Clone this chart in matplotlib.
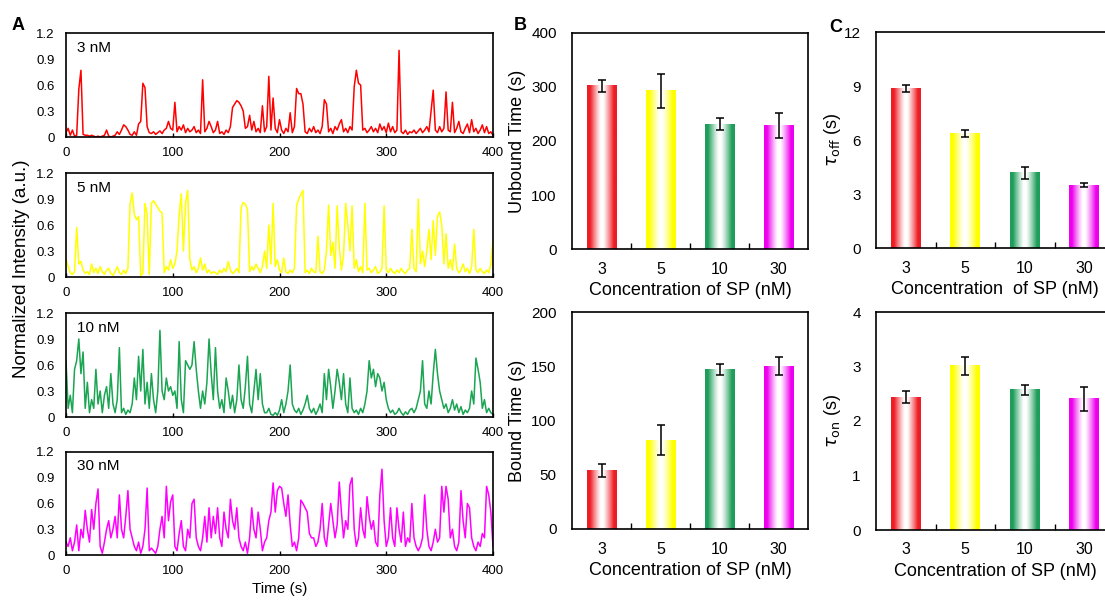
import numpy as np
import matplotlib
matplotlib.use("Agg")
import matplotlib.pyplot as plt
from matplotlib.colors import to_rgb

plt.rcParams['font.family'] = ['Liberation Sans', 'DejaVu Sans']
plt.rcParams['mathtext.fontset'] = 'dejavusans'

# ---------------- data ----------------
trace_labels = ["3 nM", "5 nM", "10 nM", "30 nM"]
trace_colors = ["#ff0000", "#ffff00", "#1aa552", "#ff00ff"]
dt = 2.0  # seconds between samples

trace_3nM = [
    0.05, 0.10, 0.02, 0.08, 0.01, 0.02, 0.55, 0.77, 0.03, 0.02,
    0.02, 0.01, 0.02, 0.01, 0.00, 0.01, 0.00, 0.01, 0.02, 0.08,
    0.01, 0.00, 0.01, 0.02, 0.06, 0.03, 0.08, 0.14, 0.12, 0.08,
    0.03, 0.02, 0.06, 0.02, 0.15, 0.18, 0.62, 0.57, 0.12, 0.05,
    0.04, 0.06, 0.03, 0.05, 0.07, 0.04, 0.08, 0.10, 0.18, 0.10,
    0.08, 0.40, 0.06, 0.12, 0.08, 0.14, 0.05, 0.10, 0.06, 0.08,
    0.12, 0.05, 0.08, 0.04, 0.66, 0.06, 0.10, 0.18, 0.12, 0.05,
    0.08, 0.18, 0.04, 0.06, 0.03, 0.08, 0.05, 0.12, 0.34, 0.38,
    0.42, 0.40, 0.36, 0.30, 0.10, 0.12, 0.25, 0.08, 0.18, 0.06,
    0.10, 0.05, 0.36, 0.06, 0.12, 0.70, 0.08, 0.45, 0.10, 0.05,
    0.20, 0.08, 0.04, 0.10, 0.06, 0.28, 0.05, 0.12, 0.56, 0.50,
    0.50, 0.38, 0.06, 0.04, 0.10, 0.06, 0.12, 0.05, 0.08, 0.04,
    0.12, 0.43, 0.38, 0.06, 0.10, 0.04, 0.12, 0.08, 0.15, 0.20,
    0.06, 0.10, 0.05, 0.12, 0.08, 0.58, 0.77, 0.62, 0.60, 0.08,
    0.10, 0.05, 0.08, 0.12, 0.06, 0.10, 0.05, 0.15, 0.08, 0.12,
    0.05, 0.16, 0.06, 0.12, 0.05, 0.08, 1.00, 0.06, 0.04, 0.08,
    0.03, 0.06, 0.05, 0.08, 0.04, 0.07, 0.10, 0.05, 0.08, 0.12,
    0.06, 0.30, 0.54, 0.08, 0.05, 0.12, 0.06, 0.10, 0.52, 0.08,
    0.06, 0.40, 0.05, 0.10, 0.18, 0.06, 0.04, 0.10, 0.15, 0.05,
    0.20, 0.06, 0.10, 0.04, 0.08, 0.14, 0.05, 0.12, 0.04, 0.06,
    0.02,
]
trace_5nM = [
    0.20, 0.12, 0.05, 0.03, 0.06, 0.57, 0.15, 0.18, 0.08, 0.04,
    0.06, 0.03, 0.15, 0.05, 0.10, 0.04, 0.12, 0.06, 0.03, 0.08,
    0.10, 0.04, 0.02, 0.06, 0.12, 0.05, 0.03, 0.08, 0.04, 0.10,
    0.84, 0.97, 0.72, 0.66, 0.70, 0.02, 0.04, 0.85, 0.72, 0.03,
    0.85, 0.88, 0.84, 0.80, 0.76, 0.74, 0.05, 0.12, 0.08, 0.20,
    0.10, 0.15, 0.30, 0.72, 0.96, 0.30, 0.85, 1.00, 0.20, 0.08,
    0.12, 0.05, 0.10, 0.22, 0.08, 0.15, 0.05, 0.08, 0.04, 0.06,
    0.05, 0.03, 0.08, 0.05, 0.10, 0.06, 0.18, 0.08, 0.04, 0.06,
    0.10, 0.05, 0.80, 0.86, 0.84, 0.78, 0.06, 0.12, 0.08, 0.15,
    0.10, 0.05, 0.12, 0.30, 0.10, 0.60, 0.15, 0.85, 0.12, 0.20,
    0.08, 0.05, 0.22, 0.06, 0.04, 0.08, 0.05, 0.10, 0.82, 0.90,
    0.95, 1.00, 0.05, 0.08, 0.04, 0.10, 0.06, 0.05, 0.47, 0.06,
    0.04, 0.08, 0.30, 0.83, 0.25, 0.40, 0.10, 0.82, 0.35, 0.08,
    0.25, 0.85, 0.60, 0.30, 0.82, 0.10, 0.20, 0.06, 0.12, 0.05,
    0.85, 0.08, 0.10, 0.05, 0.08, 0.12, 0.04, 0.06, 0.10, 0.82,
    0.08, 0.05, 0.10, 0.06, 0.04, 0.08, 0.05, 0.10, 0.06, 0.04,
    0.08, 0.10, 0.55, 0.10, 0.06, 0.90, 0.15, 0.30, 0.12, 0.30,
    0.55, 0.20, 0.65, 0.25, 0.70, 0.75, 0.60, 0.15, 0.50, 0.10,
    0.20, 0.08, 0.38, 0.10, 0.05, 0.08, 0.15, 0.06, 0.10, 0.04,
    0.12, 0.55, 0.08, 0.05, 0.10, 0.06, 0.04, 0.08, 0.05, 0.15,
    0.42,
]
trace_10nM = [
    0.65, 0.10, 0.25, 0.05, 0.55, 0.65, 0.90, 0.50, 0.75, 0.10,
    0.40, 0.05, 0.20, 0.10, 0.55, 0.15, 0.30, 0.05, 0.25, 0.35,
    0.10, 0.50, 0.15, 0.05, 0.20, 0.80, 0.05, 0.10, 0.03, 0.08,
    0.05, 0.15, 0.45, 0.20, 0.70, 0.30, 0.78, 0.15, 0.40, 0.10,
    0.50, 0.20, 0.05, 0.30, 1.00, 0.30, 0.20, 0.45, 0.30, 0.35,
    0.25, 0.30, 0.10, 0.87, 0.20, 0.05, 0.65, 0.60, 0.55, 0.60,
    0.87, 0.55, 0.30, 0.10, 0.30, 0.15, 0.40, 0.90, 0.50, 0.20,
    0.80, 0.30, 0.10, 0.20, 0.05, 0.45, 0.30, 0.10, 0.25, 0.05,
    0.20, 0.60, 0.20, 0.10, 0.35, 0.70, 0.15, 0.05, 0.30, 0.55,
    0.20, 0.50, 0.15, 0.05, 0.05, 0.10, 0.03, 0.02, 0.05, 0.02,
    0.08, 0.20, 0.05, 0.15, 0.30, 0.60, 0.15, 0.08, 0.05, 0.10,
    0.03, 0.08, 0.15, 0.25, 0.10, 0.05, 0.10, 0.03, 0.08, 0.15,
    0.05, 0.50, 0.20, 0.55, 0.35, 0.10, 0.30, 0.55, 0.40, 0.20,
    0.50, 0.15, 0.05, 0.45, 0.10, 0.05, 0.08, 0.03, 0.10, 0.05,
    0.15, 0.30, 0.65, 0.45, 0.55, 0.35, 0.50, 0.45, 0.30, 0.40,
    0.20, 0.10, 0.05, 0.08, 0.03, 0.05, 0.10, 0.05, 0.02, 0.06,
    0.03, 0.08, 0.10, 0.05, 0.10, 0.20, 0.30, 0.65, 0.15, 0.10,
    0.30, 0.15, 0.50, 0.78, 0.50, 0.30, 0.20, 0.10, 0.15, 0.05,
    0.10, 0.20, 0.08, 0.15, 0.05, 0.12, 0.03, 0.08, 0.05, 0.10,
    0.30, 0.15, 0.68, 0.55, 0.40, 0.10, 0.20, 0.05, 0.10, 0.05,
    0.03,
]
trace_30nM = [
    0.15, 0.10, 0.20, 0.05, 0.15, 0.35, 0.05, 0.30, 0.20, 0.52,
    0.30, 0.15, 0.53, 0.30, 0.60, 0.77, 0.10, 0.02, 0.15, 0.30,
    0.40, 0.20, 0.30, 0.45, 0.20, 0.70, 0.30, 0.20, 0.45, 0.75,
    0.30, 0.20, 0.10, 0.05, 0.15, 0.02, 0.10, 0.30, 0.78, 0.05,
    0.08, 0.05, 0.02, 0.10, 0.30, 0.45, 0.20, 0.80, 0.40, 0.62,
    0.70, 0.10, 0.05, 0.25, 0.40, 0.10, 0.05, 0.30, 0.20, 0.60,
    0.65, 0.20, 0.10, 0.05, 0.20, 0.45, 0.15, 0.55, 0.20, 0.45,
    0.25, 0.55, 0.20, 0.10, 0.50, 0.30, 0.20, 0.65, 0.40, 0.30,
    0.55, 0.20, 0.10, 0.05, 0.15, 0.02, 0.20, 0.55, 0.30, 0.20,
    0.50, 0.30, 0.05, 0.15, 0.20, 0.40, 0.50, 0.84, 0.50, 0.75,
    0.80, 0.78, 0.60, 0.45, 0.70, 0.35, 0.10, 0.15, 0.05, 0.20,
    0.64, 0.60, 0.55, 0.50, 0.25, 0.20, 0.20, 0.10, 0.15, 0.30,
    0.60, 0.20, 0.10, 0.35, 0.60, 0.40, 0.20, 0.35, 0.85, 0.50,
    0.20, 0.40, 0.30, 0.82, 0.90, 0.30, 0.10, 0.20, 0.55, 0.30,
    0.20, 0.68, 0.45, 0.30, 0.40, 0.15, 0.10, 0.70, 1.00, 0.40,
    0.10, 0.20, 0.55, 0.20, 0.10, 0.55, 0.30, 0.15, 0.50, 0.10,
    0.20, 0.15, 0.60, 0.20, 0.10, 0.05, 0.10, 0.20, 0.70, 0.30,
    0.10, 0.05, 0.15, 0.30, 0.15, 0.20, 0.80, 0.50, 0.80, 0.65,
    0.20, 0.30, 0.10, 0.05, 0.15, 0.75, 0.40, 0.20, 0.60, 0.55,
    0.20, 0.10, 0.05, 0.15, 0.10, 0.25, 0.20, 0.80, 0.70, 0.50,
    0.10,
]
traces = [trace_3nM, trace_5nM, trace_10nM, trace_30nM]
trace_yticks = [0, 0.3, 0.6, 0.9, 1.2]
trace_yticklabels = ["0", "0.3", "0.6", "0.9", "1.2"]
trace_xticks = [0, 100, 200, 300, 400]

concentrations = ["3", "5", "10", "30"]
bar_colors = ["#ee1c24", "#ffff00", "#1e9e5a", "#ee00ee"]

unbound_time = [302, 293, 231, 229]
unbound_err = [11, 32, 11, 23]
bound_time = [54, 82, 147, 150]
bound_err = [6, 14, 5, 8.5]
tau_off = [8.87, 6.35, 4.17, 3.50]
tau_off_err = [0.20, 0.20, 0.35, 0.09]
tau_on = [2.44, 3.01, 2.57, 2.41]
tau_on_err = [0.11, 0.16, 0.085, 0.22]

# ---------------- figure ----------------
W, H = 1105, 601
fig = plt.figure(figsize=(W / 100, H / 100), dpi=100)


def px_axes(left, top, right, bottom):
    return fig.add_axes([left / W, 1 - bottom / H, (right - left) / W, (bottom - top) / H])


# Panel A
a_boxes = [(66, 33, 493, 137), (66, 173, 493, 277), (66, 313, 493, 417), (66, 452, 493, 555)]
for box, vals, col, lab in zip(a_boxes, traces, trace_colors, trace_labels):
    ax = px_axes(*box)
    t = np.arange(len(vals)) * dt
    ax.plot(t, vals, color=col, lw=1.1, zorder=2)
    ax.set_xlim(0, 400)
    ax.set_ylim(0, 1.2)
    ax.set_xticks(trace_xticks)
    ax.set_yticks(trace_yticks)
    ax.set_yticklabels(trace_yticklabels)
    ax.tick_params(axis='x', direction='in', length=3, width=1, pad=7, labelsize=9.5)
    ax.tick_params(axis='y', length=0, pad=8, labelsize=9.5)
    for s in ax.spines.values():
        s.set_linewidth(1.2)
        s.set_zorder(3)
    ax.text(0.025, 0.86, lab, transform=ax.transAxes, fontsize=11, va='center', ha='left')
    if lab == "30 nM":
        ax.set_xlabel("Time (s)", fontsize=11, labelpad=4)

fig.text(22 / W, 1 - 269 / H, "Normalized Intensity (a.u.)", rotation=90,
         ha='center', va='center', fontsize=13.5)


def gradient_bars(ax, values, errors, ylim, yticks, ylabel, xlabel, ylabel_x):
    x = np.arange(len(values))
    bars = ax.bar(x, values, width=0.5, color='none', edgecolor='none', zorder=2)
    tt = np.linspace(0, 1, 256)
    wgt = np.clip((np.abs(tt - 0.5) - 0.04) / 0.36, 0, 1) ** 1.2
    for rect, col in zip(bars, bar_colors):
        rgb = np.array(to_rgb(col))
        img = 1 - wgt[:, None] * (1 - rgb[None, :])
        x0, y0 = rect.get_x(), rect.get_y()
        ax.imshow(img[None, :, :], extent=(x0, x0 + rect.get_width(), y0, y0 + rect.get_height()),
                  aspect='auto', interpolation='bilinear', zorder=2)
    ax.errorbar(x, values, yerr=errors, fmt='none', ecolor='black', elinewidth=1.1,
                capsize=3, capthick=1.1, zorder=4)
    ax.set_xlim(-0.5, len(values) - 0.5)
    ax.set_ylim(*ylim)
    ax.set_yticks(yticks)
    ax.set_xticks(x)
    ax.set_xticklabels(concentrations)
    ax.set_xticks(x[:-1] + 0.5, minor=True)
    ax.tick_params(axis='x', which='major', length=0, pad=9, labelsize=11.5)
    ax.tick_params(axis='x', which='minor', direction='in', length=4, width=1)
    ax.tick_params(axis='y', length=0, pad=11, labelsize=11)
    for s in ax.spines.values():
        s.set_linewidth(1.2)
        s.set_zorder(5)
    ax.set_ylabel(ylabel, fontsize=13)
    ax.yaxis.set_label_coords(ylabel_x, 0.5)
    ax.set_xlabel(xlabel, fontsize=13, labelpad=4)
    ax.set_aspect('auto')


axB1 = px_axes(572, 33, 808, 249)
gradient_bars(axB1, unbound_time, unbound_err, (0, 400), [0, 100, 200, 300, 400],
              "Unbound Time (s)", "Concentration of SP (nM)", -0.195)
axB2 = px_axes(572, 312, 808, 529)
gradient_bars(axB2, bound_time, bound_err, (0, 200), [0, 50, 100, 150, 200],
              "Bound Time (s)", "Concentration of SP (nM)", -0.195)
axC1 = px_axes(876, 32, 1114, 248)
gradient_bars(axC1, tau_off, tau_off_err, (0, 12), [0, 3, 6, 9, 12],
              r"$\tau_{\mathrm{off}}$ (s)", "Concentration  of SP (nM)", -0.14)
axC2 = px_axes(876, 312, 1114, 530)
gradient_bars(axC2, tau_on, tau_on_err, (0, 4), [0, 1, 2, 3, 4],
              r"$\tau_{\mathrm{on}}$ (s)", "Concentration of SP (nM)", -0.14)

for letter, (lx, ly) in zip("ABC", [(18, 25), (520, 26), (836, 27)]):
    fig.text(lx / W, 1 - ly / H, letter, fontsize=13, fontweight='bold', ha='center', va='center')

fig.savefig("out.png", dpi=100)
